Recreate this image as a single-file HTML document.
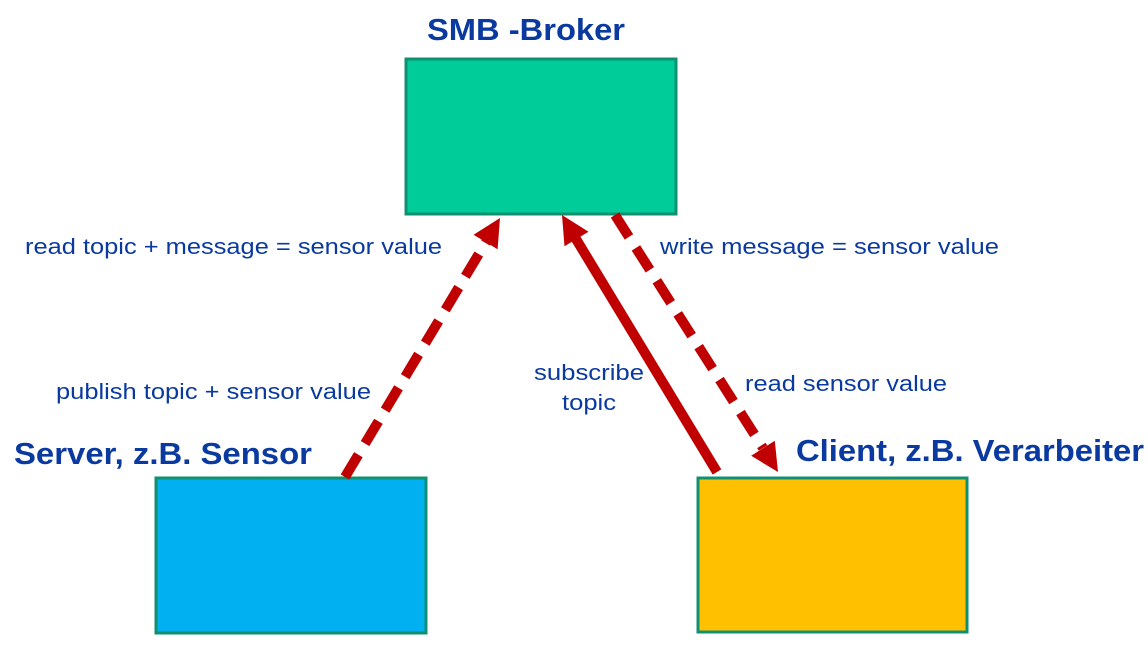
<!DOCTYPE html>
<html><head><meta charset="utf-8"><style>
html,body{margin:0;padding:0;background:#fff;}
svg{display:block;}
text{font-family:"Liberation Sans",Arial,sans-serif;fill:#0a3aa0;}
.t{font-weight:bold;font-size:31px;}
.l{font-size:22px;}
</style></head><body>
<svg width="1148" height="645" viewBox="0 0 1148 645">
<rect x="406" y="59" width="270" height="155" fill="#00cc99" stroke="#109070" stroke-width="3"/>
<rect x="156" y="478" width="270" height="155" fill="#00b0f0" stroke="#109070" stroke-width="3"/>
<rect x="698" y="478" width="269" height="154" fill="#ffc000" stroke="#109070" stroke-width="3"/>
<text class="t" x="427" y="40" textLength="198" lengthAdjust="spacingAndGlyphs">SMB -Broker</text>
<text class="t" x="14" y="464" textLength="298" lengthAdjust="spacingAndGlyphs">Server, z.B. Sensor</text>
<text class="t" x="796" y="461" textLength="348" lengthAdjust="spacingAndGlyphs">Client, z.B. Verarbeiter</text>
<text class="l" x="25" y="254" textLength="417" lengthAdjust="spacingAndGlyphs">read topic + message = sensor value</text>
<text class="l" x="56" y="399" textLength="315" lengthAdjust="spacingAndGlyphs">publish topic + sensor value</text>
<text class="l" x="660" y="254" textLength="339" lengthAdjust="spacingAndGlyphs">write message = sensor value</text>
<text class="l" x="745" y="391" textLength="202" lengthAdjust="spacingAndGlyphs">read sensor value</text>
<text class="l" x="534" y="380" textLength="110" lengthAdjust="spacingAndGlyphs">subscribe</text>
<text class="l" x="562" y="410" textLength="54" lengthAdjust="spacingAndGlyphs">topic</text>
<g stroke="#c00000" stroke-width="10" fill="none">
<line x1="345" y1="477" x2="486" y2="242" stroke-dasharray="26,13"/>
<line x1="717" y1="472" x2="576" y2="239"/>
<line x1="615" y1="215" x2="763" y2="448" stroke-dasharray="26,13"/>
</g>
<g fill="#c00000">
<polygon points="500,218 497.6,249.2 473.6,234.8"/>
<polygon points="562,215 588.5,231.8 564.5,246.2"/>
<polygon points="778,472 774.8,440.8 751.2,455.8"/>
</g>
</svg>
</body></html>
